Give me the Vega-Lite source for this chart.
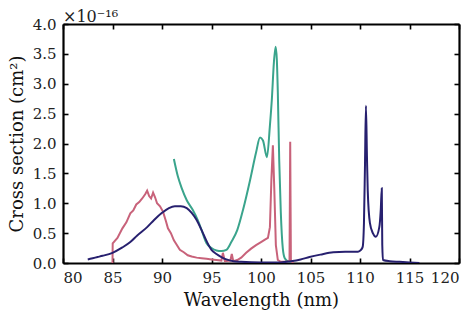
{
  "$schema": "https://vega.github.io/schema/vega-lite/v6.json",
  "width": 396,
  "height": 239,
  "autosize": "none",
  "padding": {"left": 63, "top": 24, "right": 15, "bottom": 58},
  "background": "white",
  "config": {
    "font": "DejaVu Serif",
    "view": {"stroke": null},
    "axis": {
      "labelFont": "DejaVu Serif",
      "titleFont": "DejaVu Serif",
      "labelFontSize": 15,
      "titleFontSize": 18,
      "titleFontWeight": "normal",
      "labelColor": "#222",
      "titleColor": "#111",
      "domainColor": "#000",
      "domainWidth": 2.2,
      "tickColor": "#000",
      "tickWidth": 1.6,
      "tickSize": -5,
      "grid": false
    }
  },
  "title": {
    "text": "×10⁻¹⁶",
    "anchor": "start",
    "frame": "group",
    "font": "DejaVu Serif",
    "fontSize": 16,
    "fontWeight": "normal",
    "color": "#222",
    "offset": -8
  },
  "datasets": {
    "teal": [
      {"wl": 91.2, "cs": 1.74}, {"wl": 91.6, "cs": 1.45}, {"wl": 92.0, "cs": 1.25},
      {"wl": 92.5, "cs": 1.05}, {"wl": 93.1, "cs": 0.89}, {"wl": 93.6, "cs": 0.72},
      {"wl": 94.0, "cs": 0.55}, {"wl": 94.5, "cs": 0.33}, {"wl": 95.0, "cs": 0.25},
      {"wl": 95.5, "cs": 0.21}, {"wl": 96.0, "cs": 0.2}, {"wl": 96.5, "cs": 0.22},
      {"wl": 97.0, "cs": 0.35}, {"wl": 97.6, "cs": 0.55}, {"wl": 98.2, "cs": 0.9},
      {"wl": 98.9, "cs": 1.39}, {"wl": 99.5, "cs": 1.85}, {"wl": 99.9, "cs": 2.1},
      {"wl": 100.2, "cs": 2.05}, {"wl": 100.6, "cs": 1.77}, {"wl": 100.9, "cs": 2.3},
      {"wl": 101.1, "cs": 2.75}, {"wl": 101.3, "cs": 3.35}, {"wl": 101.48, "cs": 3.62},
      {"wl": 101.6, "cs": 3.4}, {"wl": 101.7, "cs": 2.85}, {"wl": 101.84, "cs": 1.72},
      {"wl": 102.0, "cs": 0.85}, {"wl": 102.2, "cs": 0.25}, {"wl": 102.4, "cs": 0.08},
      {"wl": 102.8, "cs": 0.02}, {"wl": 103.0, "cs": 0.01}
    ],
    "pink": [
      {"wl": 85.0, "cs": 0.0}, {"wl": 85.02, "cs": 0.33}, {"wl": 85.5, "cs": 0.42},
      {"wl": 86.0, "cs": 0.58}, {"wl": 86.4, "cs": 0.68}, {"wl": 86.8, "cs": 0.83},
      {"wl": 87.1, "cs": 0.88}, {"wl": 87.4, "cs": 0.98}, {"wl": 87.7, "cs": 1.02},
      {"wl": 88.0, "cs": 1.08}, {"wl": 88.3, "cs": 1.15}, {"wl": 88.5, "cs": 1.21},
      {"wl": 88.7, "cs": 1.12}, {"wl": 88.9, "cs": 1.08}, {"wl": 89.1, "cs": 1.18},
      {"wl": 89.3, "cs": 1.1}, {"wl": 89.5, "cs": 1.0}, {"wl": 89.8, "cs": 0.95},
      {"wl": 90.1, "cs": 0.86}, {"wl": 90.4, "cs": 0.7}, {"wl": 90.6, "cs": 0.58},
      {"wl": 90.9, "cs": 0.5}, {"wl": 91.2, "cs": 0.38}, {"wl": 91.5, "cs": 0.3},
      {"wl": 91.8, "cs": 0.22}, {"wl": 92.2, "cs": 0.18}, {"wl": 92.6, "cs": 0.13},
      {"wl": 93.0, "cs": 0.11}, {"wl": 93.5, "cs": 0.09}, {"wl": 94.0, "cs": 0.08},
      {"wl": 94.5, "cs": 0.07}, {"wl": 95.0, "cs": 0.06}, {"wl": 95.5, "cs": 0.05},
      {"wl": 96.0, "cs": 0.04}, {"wl": 96.15, "cs": 0.17}, {"wl": 96.35, "cs": 0.03},
      {"wl": 96.9, "cs": 0.04}, {"wl": 97.05, "cs": 0.15}, {"wl": 97.2, "cs": 0.03},
      {"wl": 97.6, "cs": 0.05}, {"wl": 98.0, "cs": 0.09}, {"wl": 98.5, "cs": 0.17},
      {"wl": 99.0, "cs": 0.24}, {"wl": 99.5, "cs": 0.3}, {"wl": 100.0, "cs": 0.35},
      {"wl": 100.4, "cs": 0.39}, {"wl": 100.7, "cs": 0.42}, {"wl": 100.9, "cs": 0.6},
      {"wl": 101.05, "cs": 1.4}, {"wl": 101.2, "cs": 1.97}, {"wl": 101.35, "cs": 1.2},
      {"wl": 101.5, "cs": 0.3}, {"wl": 101.7, "cs": 0.05}, {"wl": 102.0, "cs": 0.02},
      {"wl": 102.5, "cs": 0.02}, {"wl": 102.88, "cs": 0.03}, {"wl": 102.95, "cs": 2.03},
      {"wl": 103.02, "cs": 0.03}, {"wl": 103.3, "cs": 0.01}
    ],
    "navy": [
      {"wl": 82.5, "cs": 0.06}, {"wl": 83.0, "cs": 0.08}, {"wl": 83.5, "cs": 0.1},
      {"wl": 84.0, "cs": 0.12}, {"wl": 85.0, "cs": 0.17}, {"wl": 86.0, "cs": 0.26},
      {"wl": 86.8, "cs": 0.35}, {"wl": 87.5, "cs": 0.46}, {"wl": 88.5, "cs": 0.6},
      {"wl": 89.2, "cs": 0.72}, {"wl": 90.0, "cs": 0.84}, {"wl": 90.7, "cs": 0.92},
      {"wl": 91.3, "cs": 0.95}, {"wl": 91.9, "cs": 0.95}, {"wl": 92.5, "cs": 0.92},
      {"wl": 93.0, "cs": 0.84}, {"wl": 93.5, "cs": 0.72}, {"wl": 94.0, "cs": 0.55},
      {"wl": 94.3, "cs": 0.44}, {"wl": 94.7, "cs": 0.3}, {"wl": 95.0, "cs": 0.22},
      {"wl": 95.5, "cs": 0.15}, {"wl": 96.0, "cs": 0.1}, {"wl": 96.5, "cs": 0.06},
      {"wl": 97.2, "cs": 0.03}, {"wl": 98.0, "cs": 0.02}, {"wl": 100.0, "cs": 0.01},
      {"wl": 102.0, "cs": 0.01}, {"wl": 103.0, "cs": 0.03}, {"wl": 104.0, "cs": 0.06},
      {"wl": 104.9, "cs": 0.1}, {"wl": 106.0, "cs": 0.14}, {"wl": 107.3, "cs": 0.18},
      {"wl": 108.5, "cs": 0.19}, {"wl": 109.8, "cs": 0.19}, {"wl": 110.1, "cs": 0.22},
      {"wl": 110.27, "cs": 0.27}, {"wl": 110.4, "cs": 0.67}, {"wl": 110.5, "cs": 1.6},
      {"wl": 110.6, "cs": 2.63}, {"wl": 110.7, "cs": 1.8}, {"wl": 110.78, "cs": 1.22},
      {"wl": 111.0, "cs": 0.67}, {"wl": 111.3, "cs": 0.5}, {"wl": 111.6, "cs": 0.44},
      {"wl": 111.95, "cs": 0.6}, {"wl": 112.1, "cs": 0.9}, {"wl": 112.2, "cs": 1.25},
      {"wl": 112.25, "cs": 0.3}, {"wl": 112.32, "cs": 0.05}, {"wl": 113.0, "cs": 0.03},
      {"wl": 114.0, "cs": 0.02}, {"wl": 115.0, "cs": 0.01}, {"wl": 116.0, "cs": 0.0}
    ]
  },
  "layer": [
    {
      "data": {"name": "teal"},
      "mark": {"type": "line", "color": "#3aa48c", "strokeWidth": 2, "interpolate": "monotone", "clip": true},
      "encoding": {
        "x": {"field": "wl", "type": "quantitative",
              "scale": {"domain": [80, 120], "nice": false},
              "axis": {"orient": "bottom", "values": [80, 85, 90, 95, 100, 105, 110, 115, 120],
                       "title": "Wavelength (nm)", "labelPadding": 12, "titlePadding": 6}},
        "y": {"field": "cs", "type": "quantitative",
              "scale": {"domain": [0, 4], "nice": false},
              "axis": {"orient": "left", "values": [0, 0.5, 1, 1.5, 2, 2.5, 3, 3.5, 4], "format": ".1f",
                       "title": "Cross section (cm²)", "labelPadding": 12, "titlePadding": 6}}
      }
    },
    {
      "data": {"name": "pink"},
      "mark": {"type": "line", "color": "#c8627a", "strokeWidth": 2, "clip": true},
      "encoding": {
        "x": {"field": "wl", "type": "quantitative",
              "axis": {"orient": "top", "values": [80, 85, 90, 95, 100, 105, 110, 115, 120],
                       "labels": false, "title": null}},
        "y": {"field": "cs", "type": "quantitative",
              "axis": {"orient": "right", "values": [0, 0.5, 1, 1.5, 2, 2.5, 3, 3.5, 4],
                       "labels": false, "title": null}}
      }
    },
    {
      "data": {"name": "navy"},
      "mark": {"type": "line", "color": "#27206f", "strokeWidth": 2, "interpolate": "monotone", "clip": true},
      "encoding": {
        "x": {"field": "wl", "type": "quantitative", "axis": null},
        "y": {"field": "cs", "type": "quantitative", "axis": null}
      }
    }
  ],
  "resolve": {"axis": {"x": "independent", "y": "independent"}}
}
